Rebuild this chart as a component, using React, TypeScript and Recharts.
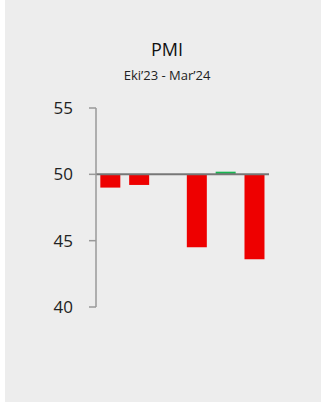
import React from 'react';
import { BarChart, Bar, XAxis, YAxis, ReferenceLine, Cell } from 'recharts';

const months = ['Eki’23', 'Kas’23', 'Ara’23', 'Oca’24', 'Şub’24', 'Mar’24'];
const pmi = [49.0, 49.2, 50.0, 44.5, 50.2, 43.6];
const yTicks = [40, 45, 50, 55];
const threshold = 50;

const data = months.map((m, i) => ({ month: m, range: [threshold, pmi[i]], value: pmi[i] }));

const font = '"Open Sans", "Noto Sans", sans-serif';

const App: React.FC = () => {
  return (
    <div style={{ position: 'absolute', left: 0, top: 0, width: 321, height: 405, background: '#fff' }}>
      <div style={{ position: 'absolute', left: 5, top: 0, width: 316, height: 402, background: '#ededed' }} />
      <div
        style={{
          position: 'absolute', left: 5, width: 316, top: 37, textAlign: 'center',
          fontFamily: font, fontSize: 18, color: '#111', lineHeight: '24px', paddingLeft: 4,
        }}
      >
        PMI
      </div>
      <div
        style={{
          position: 'absolute', left: 5, width: 316, top: 66, textAlign: 'center',
          fontFamily: font, fontSize: 13, color: '#222', lineHeight: '18px', paddingLeft: 4,
        }}
      >
        Eki’23 - Mar’24
      </div>
      <div style={{ position: 'absolute', left: 0, top: 0 }}>
        <BarChart
          width={321}
          height={405}
          data={data}
          margin={{ top: 108, right: 52, bottom: 98, left: 46 }}
          barCategoryGap="15%"
          style={{ fontFamily: font }}
        >
          <XAxis dataKey="month" hide />
          <YAxis
            domain={[40, 55]}
            ticks={yTicks}
            width={50}
            tickSize={7}
            tickMargin={16}
            axisLine={{ stroke: '#999', strokeWidth: 1.5 }}
            tickLine={{ stroke: '#999', strokeWidth: 1.5 }}
            tick={{ fill: '#222', fontSize: 17 }}
          />
          <Bar dataKey="range" isAnimationActive={false}>
            {data.map((d, i) => (
              <Cell key={i} fill={d.value >= threshold ? '#17b651' : '#ee0000'} />
            ))}
          </Bar>
          <ReferenceLine y={threshold} stroke="#777" strokeWidth={2} />
        </BarChart>
      </div>
    </div>
  );
};

export default App;
